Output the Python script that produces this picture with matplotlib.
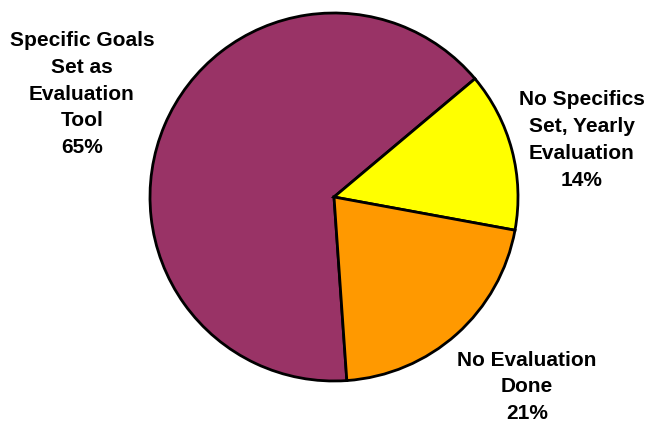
import matplotlib
matplotlib.use("Agg")
import matplotlib.pyplot as plt

categories = ["Specific Goals\nSet as\nEvaluation\nTool",
              "No Specifics\nSet, Yearly\nEvaluation",
              "No Evaluation\nDone"]
values = [65, 14, 21]
colors = ["#993366", "#FFFF00", "#FF9900"]

W, H = 656, 430
fig = plt.figure(figsize=(W / 100, H / 100), dpi=100)
ax = fig.add_axes([0, 0, 1, 1])

ax.pie(values, colors=colors, startangle=-86, counterclock=False,
       center=(334, H - 197), radius=184, frame=True,
       wedgeprops=dict(edgecolor="black", linewidth=2))
ax.set_xlim(0, W)
ax.set_ylim(0, H)
ax.set_aspect("equal")
ax.axis("off")

# label anchor points (pixel space, measured from the top)
label_pos = [(82, 94), (582, 140), (527, 387)]
for cat, val, (x, y) in zip(categories, values, label_pos):
    ax.text(x, H - y, f"{cat}\n{val}%", ha="center", va="center",
            fontsize=15, fontweight="bold", family="Liberation Sans",
            linespacing=1.52)

fig.savefig("out.png", dpi=100)
